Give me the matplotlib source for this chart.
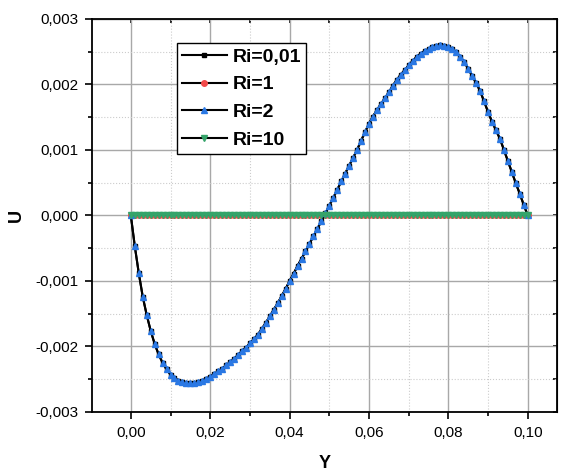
import numpy as np
import matplotlib
matplotlib.use("Agg")
import matplotlib.pyplot as plt
from matplotlib.ticker import MultipleLocator, FuncFormatter, NullLocator

plt.rcParams['font.family'] = ['Liberation Sans', 'DejaVu Sans']

# Y positions (grid of the solution)
y = np.round(np.arange(101) * 0.001, 3)

# U profile (Ri=0,01 and Ri=2 coincide)
u_ri001 = [
    0.0, -0.00047, -0.00088, -0.00124, -0.00152, -0.00176, -0.00196, -0.00212,
    -0.00225, -0.00235, -0.00243, -0.00248, -0.00252, -0.00254, -0.00255,
    -0.00255, -0.00255, -0.00254, -0.00252, -0.00249, -0.00246, -0.00242,
    -0.00238, -0.00234, -0.00229, -0.00224, -0.00219, -0.00213, -0.00207,
    -0.00202, -0.00195, -0.00189, -0.00182, -0.00173, -0.00164, -0.00154,
    -0.00144, -0.00134, -0.00123, -0.00112, -0.00100, -0.00089, -0.00077,
    -0.00066, -0.00055, -0.00043, -0.00032, -0.00020, -0.00009, 0.00003,
    0.00015, 0.00027, 0.00039, 0.00052, 0.00064, 0.00076, 0.00088, 0.00100,
    0.00114, 0.00127, 0.00140, 0.00151, 0.00161, 0.00170, 0.00179, 0.00188,
    0.00198, 0.00207, 0.00215, 0.00222, 0.00229, 0.00236, 0.00242, 0.00247,
    0.00251, 0.00254, 0.00257, 0.00259, 0.00260, 0.00259, 0.00257, 0.00254,
    0.00249, 0.00242, 0.00234, 0.00224, 0.00213, 0.00202, 0.00190, 0.00174,
    0.00158, 0.00143, 0.00130, 0.00117, 0.00100, 0.00083, 0.00066, 0.00049,
    0.00033, 0.00016, 0.0,
]
u_ri1 = [0.0] * len(y)
u_ri2 = list(u_ri001)
u_ri10 = [0.0] * len(y)

fig = plt.figure(figsize=(5.71, 4.73), dpi=100)
ax = fig.add_axes([0.161, 0.129, 0.814, 0.831])

ax.plot(y, u_ri001, color='black', lw=1.5, marker='s', ms=2.5, label='Ri=0,01', zorder=3)
ax.plot(y, u_ri1, color='black', lw=1.5, marker='o', ms=4, mfc='#f24a4a', mec='#f24a4a', label='Ri=1', zorder=3)
ax.plot(y, u_ri2, color='black', lw=1.5, marker='^', ms=5, mfc='#2a78e4', mec='#2a78e4', label='Ri=2', zorder=4)
ax.plot(y, u_ri10, color='black', lw=1.5, marker='v', ms=5, mfc='#35a46a', mec='#35a46a', label='Ri=10', zorder=4)

ax.set_xlim(-0.0098, 0.1073)
ax.set_ylim(-0.003, 0.003)

ax.xaxis.set_major_locator(MultipleLocator(0.02))
ax.xaxis.set_minor_locator(MultipleLocator(0.01))
ax.yaxis.set_major_locator(MultipleLocator(0.001))
ax.yaxis.set_minor_locator(MultipleLocator(0.0005))
ax.xaxis.set_major_formatter(FuncFormatter(lambda v, p: f"{v:.2f}".replace('.', ',').replace('-0,00', '0,00')))
ax.yaxis.set_major_formatter(FuncFormatter(lambda v, p: f"{v:.3f}".replace('.', ',').replace('-0,000', '0,000')))

ax.grid(which='major', color='#a8a8a8', lw=1.0, ls='-')
ax.grid(which='minor', color='#cccccc', lw=0.8, ls=':')
ax.set_axisbelow(True)

ax.tick_params(which='major', direction='out', length=5, width=1.2, labelsize=11, pad=5)
ax.tick_params(which='minor', direction='out', length=3, width=1.2)
for s in ax.spines.values():
    s.set_linewidth(1.3)

# inward minor ticks on top and right
top = ax.secondary_xaxis('top')
top.xaxis.set_major_locator(NullLocator())
top.xaxis.set_minor_locator(MultipleLocator(0.01))
top.tick_params(which='minor', direction='in', length=3, width=1.2)
right = ax.secondary_yaxis('right')
right.yaxis.set_major_locator(NullLocator())
right.yaxis.set_minor_locator(MultipleLocator(0.0005))
right.tick_params(which='minor', direction='in', length=3, width=1.2)

ax.set_xlabel('Y', fontsize=13, fontweight='bold', labelpad=11)
ax.set_ylabel('U', fontsize=13, fontweight='bold', labelpad=7)

leg = ax.legend(loc='upper left', bbox_to_anchor=(0.183, 0.938), borderaxespad=0,
                prop={'size': 14, 'weight': 'bold'}, fancybox=False, framealpha=1,
                edgecolor='black', handlelength=2.3, handletextpad=0.3,
                labelspacing=0.52, borderpad=0.25)
leg.get_frame().set_linewidth(1.0)

fig.savefig('out.png', dpi=100)
